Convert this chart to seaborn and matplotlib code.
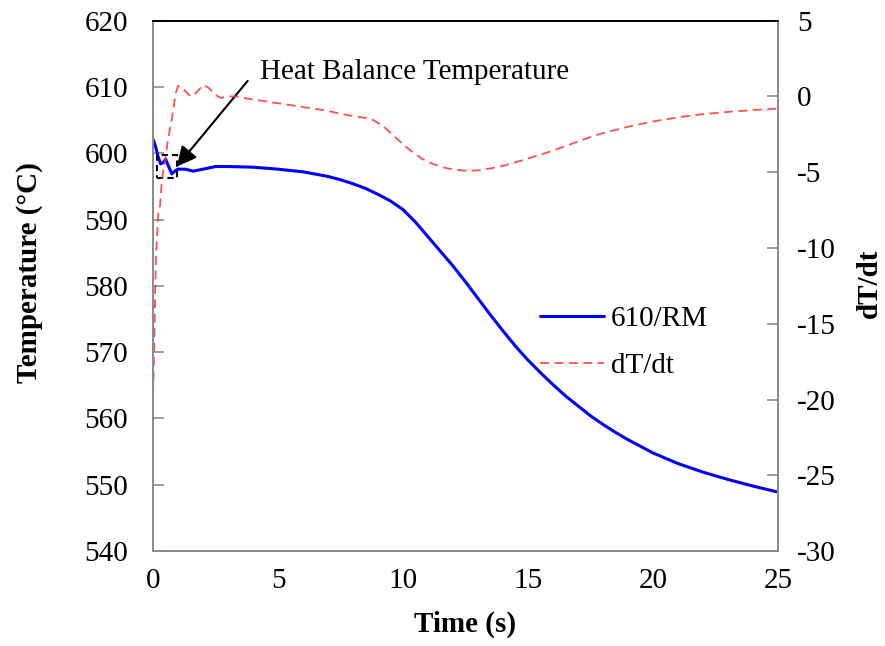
import numpy as np
import pandas as pd
import matplotlib
matplotlib.use("Agg")
import matplotlib.pyplot as plt
from matplotlib.patches import Rectangle
import seaborn as sns

# Temperature history of sample 610/RM
time_T = [0.0, 0.1, 0.2, 0.3, 0.4, 0.5, 0.6, 0.75, 0.9, 1.0, 1.3, 1.6, 2.0, 2.5,
          3.0, 4.0, 5.0, 6.0, 7.0, 7.5, 8.0, 8.5, 9.0, 9.5, 10.0, 10.5, 11.0,
          11.5, 12.0, 12.5, 13.0, 13.5, 14.0, 14.5, 15.0, 15.5, 16.0, 16.5,
          17.0, 17.5, 18.0, 18.5, 19.0, 19.5, 20.0, 21.0, 22.0, 23.0, 24.0, 25.0]
temp = [602.1, 601.0, 599.5, 598.4, 598.6, 599.1, 598.2, 596.9, 597.4, 597.6,
        597.6, 597.3, 597.6, 598.0, 598.0, 597.9, 597.6, 597.2, 596.5, 596.0,
        595.4, 594.7, 593.8, 592.8, 591.5, 589.6, 587.4, 585.2, 583.0, 580.6,
        578.1, 575.6, 573.2, 570.9, 568.8, 566.9, 565.1, 563.4, 561.9, 560.4,
        559.1, 557.9, 556.8, 555.8, 554.8, 553.2, 551.9, 550.8, 549.8, 548.9]

# Cooling rate dT/dt
time_r = [0.0, 0.04, 0.08, 0.12, 0.18, 0.22, 0.28, 0.35, 0.48, 0.6, 0.75, 0.9,
          1.0, 1.2, 1.5, 1.7, 2.0, 2.2, 2.5, 2.7, 3.0, 3.3, 4.0, 5.0, 6.0, 7.0,
          7.5, 8.0, 8.5, 8.8, 9.2, 9.6, 10.0, 10.4, 10.8, 11.2, 11.6, 12.0,
          12.5, 13.0, 13.5, 14.0, 14.5, 15.0, 15.5, 16.0, 16.5, 17.0, 17.5,
          18.0, 19.0, 20.0, 21.0, 22.0, 23.0, 24.0, 25.0]
rate = [-19.7, -17.0, -13.0, -10.5, -8.5, -7.6, -7.2, -5.5, -4.2, -2.8, -1.5,
        0.2, 0.7, 0.5, 0.0, 0.2, 0.75, 0.6, 0.1, -0.1, 0.0, 0.0, -0.2, -0.45,
        -0.7, -0.95, -1.15, -1.3, -1.42, -1.55, -1.95, -2.55, -3.15, -3.7,
        -4.15, -4.45, -4.68, -4.82, -4.9, -4.88, -4.75, -4.58, -4.35, -4.1,
        -3.85, -3.57, -3.28, -2.97, -2.68, -2.42, -2.0, -1.65, -1.38, -1.17,
        -1.02, -0.9, -0.8]

x_ticks = [0, 5, 10, 15, 20, 25]
y_ticks = [540, 550, 560, 570, 580, 590, 600, 610, 620]
y2_ticks = [-30, -25, -20, -15, -10, -5, 0, 5]

sns.set_style("white")
plt.rcParams["font.family"] = ["Liberation Serif", "DejaVu Serif"]
plt.rcParams["axes.unicode_minus"] = False
plt.rcParams["text.color"] = "black"
plt.rcParams["axes.labelcolor"] = "black"

fs = 21
grey = "#8c8c8c"

fig = plt.figure(figsize=(8.85, 6.46), dpi=100)
ax = fig.add_axes([0.173, 0.147, 0.706, 0.821])
ax2 = ax.twinx()

df_T = pd.DataFrame({"t": time_T, "T": temp})
df_r = pd.DataFrame({"t": time_r, "r": rate})

sns.lineplot(data=df_T, x="t", y="T", ax=ax, color="#0000ff", lw=2.2,
             label="610/RM", legend=False)
sns.lineplot(data=df_r, x="t", y="r", ax=ax2, color="#ff3030", lw=1.3,
             linestyle=(0, (5, 3)), alpha=0.85, label="dT/dt", legend=False)

ax.set_xlim(0, 25)
ax.set_ylim(540, 620)
ax2.set_ylim(-30, 5)
ax.set_xticks(x_ticks)
ax.set_yticks(y_ticks)
ax2.set_yticks(y2_ticks)

for a in (ax, ax2):
    for side in ("left", "right", "bottom"):
        a.spines[side].set_color(grey)
        a.spines[side].set_linewidth(1.3)
    a.spines["top"].set_color("black")
    a.spines["top"].set_linewidth(1.3)
    a.tick_params(direction="in", length=8, width=1.2, color=grey,
                  labelsize=fs, labelcolor="black")

ax.tick_params(axis="y", pad=18)
ax.tick_params(axis="x", pad=12)
ax2.tick_params(axis="y", pad=14)

ax.set_xlabel("Time (s)", fontsize=fs, fontweight="bold")
ax.xaxis.set_label_coords(0.5, -0.113)
ax.set_ylabel("Temperature (°C)", fontsize=fs, fontweight="bold")
ax.yaxis.set_label_coords(-0.176, 0.526)
ax2.set_ylabel("dT/dt", fontsize=fs, fontweight="bold")
ax2.yaxis.set_label_coords(1.124, 0.505)

# Marked region where the heat balance temperature is read
ax.add_patch(Rectangle((0.15, 596.3), 0.8, 3.5, fill=False, edgecolor="black",
                       lw=1.5, linestyle=(0, (3, 2)), zorder=5))
ax.annotate("Heat Balance Temperature", xy=(0.95, 598.0), xytext=(4.28, 612.3),
            fontsize=fs, va="center", ha="left",
            arrowprops=dict(arrowstyle="-|>", color="black", lw=1.5,
                            mutation_scale=30, shrinkA=0, shrinkB=0,
                            relpos=(-0.04, 0.15)))

h1, l1 = ax.get_legend_handles_labels()
h2, l2 = ax2.get_legend_handles_labels()
fig.legend(h1 + h2, l1 + l2, loc="upper left", bbox_to_anchor=(0.58, 0.567),
           frameon=False, fontsize=fs, handlelength=2.2, handletextpad=0.25,
           labelspacing=0.7)

fig.savefig("out.png", dpi=100)
